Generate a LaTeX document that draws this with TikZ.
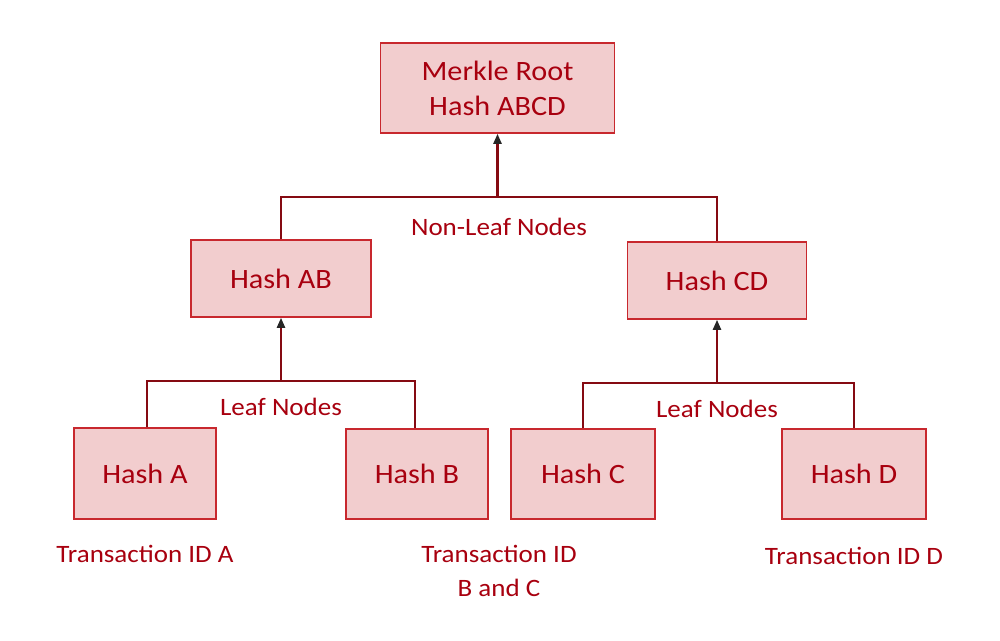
\documentclass[tikz,border=0pt]{standalone}
\usepackage{fontspec}
\setmainfont{Carlito}[FakeStretch=1.08]
\usetikzlibrary{arrows.meta}
\definecolor{txtred}{HTML}{A8000F}
\definecolor{boxfill}{HTML}{F2CDCE}
\definecolor{boxline}{HTML}{C8282E}
\definecolor{wire}{HTML}{850A12}
\begin{document}
\begin{tikzpicture}[x=1pt,y=-1pt,
  hbox/.style={draw=boxline,line width=1.6pt,fill=boxfill,text=txtred,
    font=\fontsize{28}{35}\selectfont,align=center,inner sep=0pt},
  lbl/.style={text=txtred,font=\fontsize{25}{34}\selectfont,align=center,inner sep=0pt},
  wireline/.style={draw=wire,line width=2.2pt},
  up/.style={wireline,-{Triangle[length=10pt,width=8pt,fill=black!85,color=black!85]}}]
\useasboundingbox (0,0) rectangle (1000,640);
\fill[white] (0,0) rectangle (1000,640);
% boxes
\node[hbox,minimum width=234pt,minimum height=90pt] (root) at (497.5,88) {Merkle Root\\Hash ABCD};
\node[hbox,minimum width=180pt,minimum height=77pt] (ab) at (281,278.5) {Hash AB};
\node[hbox,minimum width=179pt,minimum height=77pt] (cd) at (717,280.5) {Hash CD};
\node[hbox,minimum width=142pt,minimum height=91pt] (a) at (145,473.5) {Hash A};
\node[hbox,minimum width=142pt,minimum height=90pt] (b) at (417,474) {Hash B};
\node[hbox,minimum width=144pt,minimum height=90pt] (c) at (583,474) {Hash C};
\node[hbox,minimum width=144pt,minimum height=90pt] (d) at (854,474) {Hash D};
% junction coordinates
\coordinate (j1) at (497.5,197);
\coordinate (j2) at (281,381);
\coordinate (j3) at (717,383);
% connectors
\draw[wireline] (ab.north) |- (j1) -| (cd.north);
\draw[up] (j1) -- (root.south);
\draw[wireline] ([xshift=-134pt]j2 |- a.north) |- (j2) -| ([xshift=134pt]j2 |- b.north);
\draw[up] (j2) -- (ab.south);
\draw[wireline] (c.north) |- (j3) -| (d.north);
\draw[up] (j3) -- (cd.south);
% labels
\node[lbl] (nl) at (499,227) {Non-Leaf Nodes};
\node[lbl] (l1) at (281,407) {Leaf Nodes};
\node[lbl] (l2) at (717,409) {Leaf Nodes};
\node[lbl] (ta) at (145,554) {Transaction ID A};
\node[lbl] (tbc) at (499,571) {Transaction ID\\B and C};
\node[lbl] (td) at (854,556) {Transaction ID D};
\end{tikzpicture}
\end{document}
